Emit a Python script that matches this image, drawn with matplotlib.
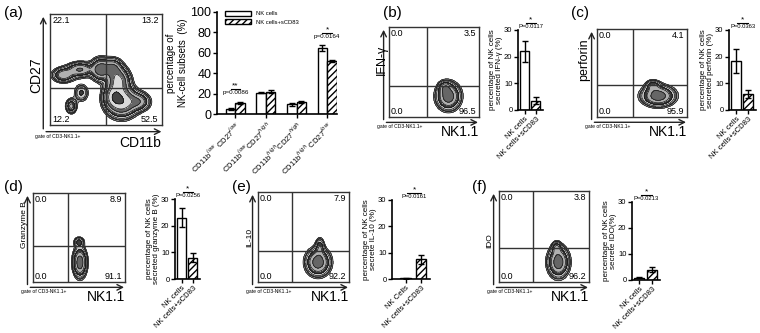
import matplotlib
matplotlib.use('Agg')
import matplotlib.pyplot as plt
import numpy as np

plt.rcParams['font.family'] = ['Liberation Sans', 'DejaVu Sans']
plt.rcParams['hatch.linewidth'] = 1.0

# ---- bar chart data ----
subset_labels = ['CD11b$^{low}$ CD27$^{low}$', 'CD11b$^{low}$CD27$^{high}$',
                 'CD11b$^{high}$CD27$^{high}$', 'CD11b$^{high}$ CD27$^{low}$']
subset_nk = [4.5, 21.0, 9.5, 65.0]
subset_nk_err = [1.0, 0.8, 1.2, 3.0]
subset_scd83 = [11.0, 22.0, 12.0, 52.0]
subset_scd83_err = [1.0, 1.5, 1.0, 0.6]

ifn_vals, ifn_err = [22.0, 3.5], [4.0, 1.3]
perf_vals, perf_err = [18.5, 6.0], [4.5, 1.5]
gzm_vals, gzm_err = [23.0, 8.0], [3.5, 1.8]
il10_vals, il10_err = [0.2, 7.5], [0.1, 1.8]
ido_vals, ido_err = [0.8, 4.0], [0.2, 1.0]

group_labels = ['NK cells', 'NK cells+sCD83']
group_labels_e = ['NK Cells', 'NK cells+sCD83']

# ---- flow quadrant numbers (UL, UR, LL, LR) ----
quad_a = ['22.1', '13.2', '12.2', '52.5']
quad_b = ['0.0', '3.5', '0.0', '96.5']
quad_c = ['0.0', '4.1', '0.0', '95.9']
quad_d = ['0.0', '8.9', '0.0', '91.1']
quad_e = ['0.0', '7.9', '0.0', '92.2']
quad_f = ['0.0', '3.8', '0.0', '96.2']

# ---- blob centres for contour outlines (cx, cy, sx, sy, weight) ----
blobs_a = [(0.12, 0.45, 0.06, 0.04, 0.7), (0.27, 0.50, 0.07, 0.04, 0.8),
           (0.45, 0.50, 0.05, 0.06, 1.0), (0.56, 0.52, 0.05, 0.05, 0.7),
           (0.61, 0.40, 0.06, 0.07, 1.2), (0.64, 0.21, 0.08, 0.08, 1.5),
           (0.80, 0.21, 0.06, 0.05, 0.6), (0.56, 0.26, 0.05, 0.06, 0.8),
           (0.19, 0.17, 0.03, 0.04, 0.6), (0.28, 0.29, 0.04, 0.05, 0.4)]
blobs_b = [(0.66, 0.23, 0.08, 0.09, 1.0), (0.62, 0.33, 0.04, 0.04, 0.4)]
blobs_c = [(0.68, 0.24, 0.11, 0.07, 1.0), (0.62, 0.36, 0.05, 0.04, 0.4)]
blobs_d = [(0.51, 0.22, 0.045, 0.10, 1.0), (0.50, 0.45, 0.035, 0.035, 0.4)]
blobs_e = [(0.66, 0.22, 0.08, 0.09, 1.0), (0.68, 0.40, 0.03, 0.06, 0.4)]
blobs_f = [(0.66, 0.22, 0.07, 0.10, 1.0), (0.64, 0.38, 0.03, 0.04, 0.4)]

W, H = 760, 333
fig = plt.figure(figsize=(7.6, 3.33), dpi=100)


def px_axes(l, t, r, b):
    return fig.add_axes([l / W, 1 - b / H, (r - l) / W, (b - t) / H])


def flow(box, blobs, quads, xlab, ylab, qx, qy, ylab_pos, ylab_fs, xlab_pos=(1.0, -0.09)):
    ax = px_axes(*box)
    g = np.linspace(0, 1, 220)
    X, Y = np.meshgrid(g, g)
    Z = np.zeros_like(X)
    for cx, cy, sx, sy, w in blobs:
        Z += w * np.exp(-((X - cx) ** 2 / (2 * sx ** 2) + (Y - cy) ** 2 / (2 * sy ** 2)))
    levels = 0.12 * 1.45 ** np.arange(10)
    levels = levels[levels < Z.max()]
    cols = ['#9a9a9a', '#5a5a5a', '#c8c8c8', '#3a3a3a', '#b0b0b0', '#666666',
            '#dadada', '#444444', '#bbbbbb']
    ax.contourf(X, Y, Z, levels=list(levels) + [Z.max() + 1], colors=cols[:len(levels)])
    ax.contour(X, Y, Z, levels=levels, colors='#111111', linewidths=0.5)
    ax.axvline(qx, color='#333333', lw=1.0)
    ax.axhline(qy, color='#333333', lw=1.0)
    ax.set_xlim(0, 1)
    ax.set_ylim(0, 1)
    ax.set_xticks([])
    ax.set_yticks([])
    for s in ax.spines.values():
        s.set_color('#333333')
        s.set_linewidth(1.0)
    ax.annotate('', xy=(-0.06, 1.0), xytext=(-0.06, -0.06), xycoords='axes fraction',
                arrowprops=dict(arrowstyle='->', lw=1.0, color='#222222'), annotation_clip=False)
    ax.annotate('', xy=(1.02, -0.06), xytext=(-0.06, -0.06), xycoords='axes fraction',
                arrowprops=dict(arrowstyle='->', lw=1.0, color='#222222'), annotation_clip=False)
    fs = 6.5
    ax.text(0.02, 0.98, quads[0], ha='left', va='top', fontsize=fs, transform=ax.transAxes)
    ax.text(0.97, 0.98, quads[1], ha='right', va='top', fontsize=fs, transform=ax.transAxes)
    ax.text(0.02, 0.01, quads[2], ha='left', va='bottom', fontsize=fs, transform=ax.transAxes)
    ax.text(0.97, 0.01, quads[3], ha='right', va='bottom', fontsize=fs, transform=ax.transAxes)
    ax.text(xlab_pos[0], xlab_pos[1], xlab, ha='right', va='top', fontsize=10,
            transform=ax.transAxes)
    ax.text(ylab_pos[0], ylab_pos[1], ylab, ha='center', va='center', rotation=90,
            fontsize=ylab_fs, transform=ax.transAxes)
    ax.text(-0.13, -0.08, 'gate of CD3-NK1.1+', ha='left', va='top', fontsize=3.6,
            transform=ax.transAxes)
    return ax


def style_bar(ax, labelsize=5.5):
    for s in ['top', 'right']:
        ax.spines[s].set_visible(False)
    for s in ['left', 'bottom']:
        ax.spines[s].set_linewidth(1.2)
    ax.tick_params(direction='out', length=3, width=1.0, labelsize=labelsize, pad=1)


def small_bar(box, vals, errs, ylab, pval, labels=group_labels, width=0.8, xlim=(-0.6, 1.65)):
    ax = px_axes(*box)
    pos = np.arange(2)
    ax.bar(pos[0], vals[0], width, color='white', edgecolor='black', lw=1.0)
    ax.bar(pos[1], vals[1], width, color='white', edgecolor='black', lw=1.0, hatch='/////')
    ax.errorbar(pos, vals, yerr=errs, fmt='none', ecolor='black', elinewidth=1.0,
                capsize=2.5, capthick=1.0)
    ax.set_ylim(0, 30)
    ax.set_xlim(*xlim)
    ax.set_yticks([0, 10, 20, 30])
    ax.set_xticks(pos)
    ax.set_xticklabels(labels, rotation=45, ha='right', rotation_mode='anchor', fontsize=5.5)
    style_bar(ax)
    ax.set_ylabel(ylab, fontsize=5.8, labelpad=1, linespacing=1.0)
    ax.plot([pos[0] + 0.1, pos[1]], [32.6, 32.6], color='black', lw=0.8, clip_on=False)
    ax.text(0.55, 32.6, '*', ha='center', va='bottom', fontsize=6)
    ax.text(0.55, 32.3, pval, ha='center', va='top', fontsize=4.2)
    return ax


# ---- panel (a) ----
flow((50, 14, 162, 125), blobs_a, quad_a, 'CD11b', 'CD27', 0.50, 0.33,
     (-0.12, 0.45), 10, xlab_pos=(0.99, -0.1))

ax = px_axes(217, 12, 337, 114)
x = np.arange(4)
bw = 0.31
ax.bar(x - bw / 2, subset_nk, bw, color='white', edgecolor='black', lw=1.0, label='NK cells')
ax.bar(x + bw / 2, subset_scd83, bw, color='white', edgecolor='black', lw=1.0,
       hatch='/////', label='NK cells+sCD83')
ax.errorbar(x - bw / 2, subset_nk, yerr=subset_nk_err, fmt='none', ecolor='black',
            elinewidth=1.0, capsize=2.5, capthick=1.0)
ax.errorbar(x + bw / 2, subset_scd83, yerr=subset_scd83_err, fmt='none', ecolor='black',
            elinewidth=1.0, capsize=2.5, capthick=1.0)
ax.set_ylim(0, 100)
ax.set_xlim(-0.6, 3.32)
ax.set_yticks([0, 20, 40, 60, 80, 100])
ax.set_xticks(x)
ax.set_xticklabels(subset_labels, rotation=45, ha='right', rotation_mode='anchor', fontsize=6.5)
style_bar(ax)
ax.tick_params(axis='y', labelsize=9)
ax.set_ylabel('percentage of\nNK-cell subsets  (%)', fontsize=7, labelpad=2)
ax.legend(loc='upper left', bbox_to_anchor=(0.02, 1.06), fontsize=4.2, frameon=False,
          handlelength=4.5, handleheight=0.8, labelspacing=0.5)
ax.plot([-bw / 2, bw / 2], [24.5, 24.5], color='black', lw=0.8)
ax.text(0, 24.5, '**', ha='center', va='bottom', fontsize=6)
ax.text(0, 23.5, 'p=0.0086', ha='center', va='top', fontsize=4.5)
ax.plot([3 - bw / 2, 3 + bw / 2], [79.5, 79.5], color='black', lw=0.8)
ax.text(3, 79.5, '*', ha='center', va='bottom', fontsize=6)
ax.text(3, 78.5, 'p=0.0164', ha='center', va='top', fontsize=4.5)

# ---- panel (b) ----
flow((389, 27, 479, 117), blobs_b, quad_b, 'NK1.1', 'IFN-γ', 0.42, 0.35, (-0.08, 0.63), 9)
small_bar((518, 30, 543, 110), ifn_vals, ifn_err,
          'percentage of NK cells\nsecreted IFN-γ (%)', 'P=0.0117')

# ---- panel (c) ----
flow((597, 29, 687, 117), blobs_c, quad_c, 'NK1.1', 'perforin', 0.40, 0.36, (-0.14, 0.65), 9)
small_bar((729, 30, 756, 110), perf_vals, perf_err,
          'percentage of NK cells\nsecreted perforin (%)', 'P=0.0363')

# ---- panel (d) ----
flow((33, 193, 125, 282), blobs_d, quad_d, 'NK1.1', 'Granzyme B', 0.38, 0.40, (-0.09, 0.64), 6)
small_bar((175, 199, 200, 279), gzm_vals, gzm_err,
          'percentage of NK cells\nsecreted granzyme B (%)', 'P=0.0256')

# ---- panel (e) ----
flow((258, 192, 349, 282), blobs_e, quad_e, 'NK1.1', 'IL-10', 0.37, 0.35, (-0.09, 0.5), 6)
small_bar((392, 200, 430, 279), il10_vals, il10_err,
          'percentage of NK cells\nsecrete IL-10 (%)', 'P=0.0161',
          labels=group_labels_e, width=0.73, xlim=(-0.93, 1.6))

# ---- panel (f) ----
flow((499, 191, 589, 282), blobs_f, quad_f, 'NK1.1', 'IDO', 0.38, 0.37, (-0.1, 0.46), 6)
small_bar((632, 202, 660, 280), ido_vals, ido_err,
          'percentage of NK cells\nsecrete IDO(%)', 'P=0.0213')

# panel letters
for lab, (px, py) in {'(a)': (4, 13), '(b)': (383, 13), '(c)': (571, 13),
                      '(d)': (4, 187), '(e)': (232, 187), '(f)': (472, 187)}.items():
    fig.text(px / W, 1 - py / H, lab, fontsize=11, ha='left', va='center')

fig.savefig('out.png', dpi=100)
